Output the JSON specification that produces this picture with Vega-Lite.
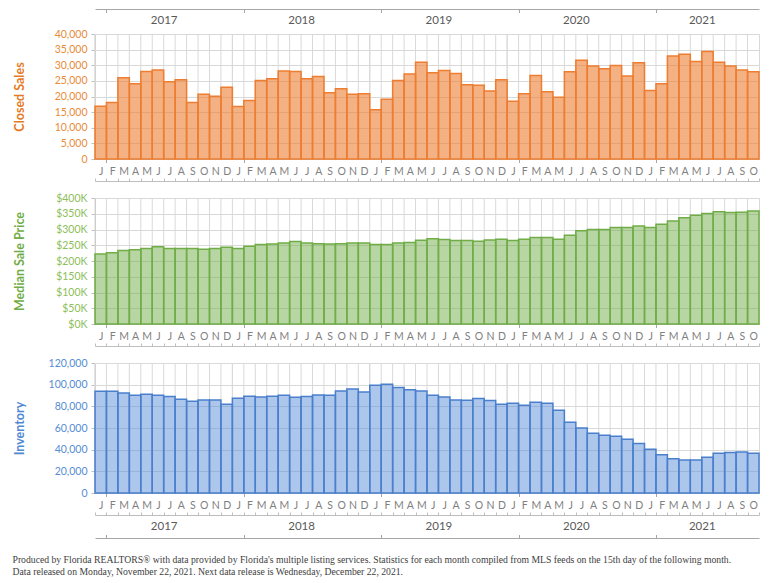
{
  "$schema": "https://vega.github.io/schema/vega-lite/v6.json",
  "padding": {"left": 12, "top": 8, "right": 10, "bottom": 5},
  "background": "white",
  "spacing": 39,
  "bounds": "flush",
  "title": {
    "text": ["Produced by Florida REALTORS® with data provided by Florida's multiple listing services. Statistics for each month compiled from MLS feeds on the 15th day of the following month.", "Data released on Monday, November 22, 2021. Next data release is Wednesday, December 22, 2021."],
    "orient": "bottom", "anchor": "start", "frame": "bounds",
    "font": "Liberation Serif", "fontSize": 9.7, "fontWeight": "normal", "color": "#404040",
    "lineHeight": 12, "offset": 16
  },
  "config": {
    "view": {"stroke": "#D9D9D9"},
    "font": "Lato",
    "axis": {"labelFont": "Lato", "titleFont": "Lato", "domainColor": "#BFBFBF", "tickColor": "#BFBFBF", "gridColor": "#D9D9D9", "labelOverlap": false}
  },
  "datasets": {
    "m": [
      {"d":"2017-01","sales":16900,"price":222000,"inv":93900},
      {"d":"2017-02","sales":18100,"price":226000,"inv":93900},
      {"d":"2017-03","sales":26000,"price":233000,"inv":92400},
      {"d":"2017-04","sales":24100,"price":236000,"inv":90200},
      {"d":"2017-05","sales":28000,"price":240000,"inv":91200},
      {"d":"2017-06","sales":28500,"price":245000,"inv":90200},
      {"d":"2017-07","sales":24700,"price":240000,"inv":89000},
      {"d":"2017-08","sales":25400,"price":240000,"inv":86600},
      {"d":"2017-09","sales":18100,"price":240000,"inv":84700},
      {"d":"2017-10","sales":20700,"price":237000,"inv":85900},
      {"d":"2017-11","sales":20100,"price":240000,"inv":85900},
      {"d":"2017-12","sales":23000,"price":244000,"inv":82000},
      {"d":"2018-01","sales":16800,"price":240000,"inv":87500},
      {"d":"2018-02","sales":18700,"price":247000,"inv":89300},
      {"d":"2018-03","sales":25100,"price":252000,"inv":88700},
      {"d":"2018-04","sales":25700,"price":254000,"inv":89300},
      {"d":"2018-05","sales":28200,"price":257000,"inv":90200},
      {"d":"2018-06","sales":28000,"price":262000,"inv":88400},
      {"d":"2018-07","sales":25700,"price":257000,"inv":89000},
      {"d":"2018-08","sales":26400,"price":255000,"inv":90500},
      {"d":"2018-09","sales":21200,"price":254000,"inv":90200},
      {"d":"2018-10","sales":22500,"price":255000,"inv":94200},
      {"d":"2018-11","sales":20700,"price":257000,"inv":96100},
      {"d":"2018-12","sales":20900,"price":257000,"inv":93300},
      {"d":"2019-01","sales":15800,"price":252000,"inv":99400},
      {"d":"2019-02","sales":19100,"price":252000,"inv":100400},
      {"d":"2019-03","sales":25100,"price":257000,"inv":97300},
      {"d":"2019-04","sales":27200,"price":259000,"inv":95200},
      {"d":"2019-05","sales":31000,"price":266000,"inv":94200},
      {"d":"2019-06","sales":27600,"price":271000,"inv":90200},
      {"d":"2019-07","sales":28300,"price":268000,"inv":88700},
      {"d":"2019-08","sales":27400,"price":265000,"inv":85900},
      {"d":"2019-09","sales":23800,"price":265000,"inv":85600},
      {"d":"2019-10","sales":23600,"price":263000,"inv":87200},
      {"d":"2019-11","sales":21800,"price":267000,"inv":85300},
      {"d":"2019-12","sales":25400,"price":269000,"inv":82000},
      {"d":"2020-01","sales":18500,"price":265000,"inv":82900},
      {"d":"2020-02","sales":20900,"price":269000,"inv":81000},
      {"d":"2020-03","sales":26700,"price":275000,"inv":83800},
      {"d":"2020-04","sales":21500,"price":275000,"inv":82900},
      {"d":"2020-05","sales":19800,"price":269000,"inv":76400},
      {"d":"2020-06","sales":27900,"price":282000,"inv":65400},
      {"d":"2020-07","sales":31600,"price":296000,"inv":59900},
      {"d":"2020-08","sales":29800,"price":300000,"inv":55200},
      {"d":"2020-09","sales":28900,"price":300000,"inv":53400},
      {"d":"2020-10","sales":29900,"price":306000,"inv":52500},
      {"d":"2020-11","sales":26600,"price":306000,"inv":49700},
      {"d":"2020-12","sales":30800,"price":311000,"inv":45700},
      {"d":"2021-01","sales":21900,"price":306000,"inv":40500},
      {"d":"2021-02","sales":24100,"price":317000,"inv":35300},
      {"d":"2021-03","sales":33000,"price":327000,"inv":31600},
      {"d":"2021-04","sales":33500,"price":337000,"inv":30400},
      {"d":"2021-05","sales":31200,"price":345000,"inv":30400},
      {"d":"2021-06","sales":34400,"price":351000,"inv":33100},
      {"d":"2021-07","sales":31000,"price":356000,"inv":36800},
      {"d":"2021-08","sales":29800,"price":354000,"inv":37400},
      {"d":"2021-09","sales":28500,"price":355000,"inv":37800},
      {"d":"2021-10","sales":27900,"price":359000,"inv":36800}
    ]
  },
  "vconcat": [
    {
      "width": 664, "height": 125,
      "data": {"name": "m"},
      "resolve": {"axis": {"x": "independent", "y": "independent"}},
      "layer": [
        {
          "mark": {"type": "rule", "color": "#D9D9D9", "strokeWidth": 1},
          "encoding": {
            "x": {"field": "d", "type": "ordinal", "bandPosition": 0,
              "scale": {"type": "band", "paddingInner": 0, "paddingOuter": 0},
              "axis": {"orient": "bottom", "offset": 22, "title": null, "tickBand": "extent", "domain": true, "domainColor": "#BFBFBF", "ticks": true, "tickColor": "#BFBFBF", "tickSize": -3, "labels": false, "grid": false}},
            "y": {"datum": 0, "type": "quantitative", "axis": null},
            "y2": {"datum": 40000}
          }
        },
        {
          "transform": [{"filter": "substring(datum.d,5,7)=='01'"}],
          "mark": {"type": "rule", "color": "#D9D9D9", "strokeWidth": 1},
          "encoding": {
            "x": {"field": "d", "type": "ordinal", "bandPosition": 0,
              "scale": {"type": "band", "paddingInner": 0, "paddingOuter": 0},
              "axis": {"orient": "top", "offset": 25, "title": null, "tickBand": "extent", "domain": true, "domainColor": "#A6A6A6", "ticks": true, "tickColor": "#A6A6A6", "tickSize": -3.5,
                "tickOpacity": {"condition": {"test": "substring(datum.value,5,7)=='01'", "value": 1}, "value": 0},
                "labelExpr": "((substring(datum.value,5,7)=='07' && datum.value!='2021-07') || datum.value=='2021-06') ? substring(datum.value,0,4) : ''",
                "labelOffset": -5.72, "labelPadding": -8, "labelBaseline": "middle", "labelAlign": "center", "labelAngle": 0, "labelColor": "#595959", "labelFontSize": 11.5, "grid": false}},
            "y": {"datum": 0, "type": "quantitative", "axis": null},
            "y2": {"datum": 40000}
          }
        },
        {
          "mark": {"type": "bar", "fill": "#ED7D31", "fillOpacity": 0.6, "stroke": "#ED7D31", "strokeWidth": 1.5},
          "encoding": {
            "x": {"field": "d", "type": "ordinal",
              "scale": {"type": "band", "paddingInner": 0, "paddingOuter": 0},
              "axis": {"orient": "bottom", "title": null, "tickBand": "extent", "grid": false, "domain": true, "domainColor": "#BFBFBF", "ticks": true, "tickSize": 3.5, "tickColor": "#A6A6A6",
                "tickOpacity": {"condition": {"test": "substring(datum.value,5,7)=='01'", "value": 1}, "value": 0},
                "labelExpr": "['J','F','M','A','M','J','J','A','S','O','N','D'][toNumber(substring(datum.value,5,7))-1]",
                "labelAngle": 0, "labelColor": "#7F7F7F", "labelFontSize": 10.5, "labelPadding": 9, "labelBaseline": "middle", "labelAlign": "center"}},
            "y": {"field": "sales", "type": "quantitative", "scale": {"domain": [0, 40000], "nice": false},
              "axis": {"title": "Closed Sales", "titleColor": "#E57B25", "titleFontWeight": "bold", "titleFontSize": 12.5, "titleX": -76, "titleY": 62.5, "titleAngle": -90, "titleAlign": "center", "titleBaseline": "middle",
                "values": [0,5000,10000,15000,20000,25000,30000,35000,40000], "format": ",d", "labelColor": "#E98B3A", "labelFontSize": 10.5, "tickSize": 4, "labelPadding": 4, "grid": true, "gridColor": "#D9D9D9"}}
          }
        }
      ]
    },
    {
      "width": 664, "height": 126,
      "data": {"name": "m"},
      "resolve": {"axis": {"x": "independent", "y": "independent"}},
      "layer": [
        {
          "mark": {"type": "rule", "color": "#D9D9D9", "strokeWidth": 1},
          "encoding": {
            "x": {"field": "d", "type": "ordinal", "bandPosition": 0,
              "scale": {"type": "band", "paddingInner": 0, "paddingOuter": 0},
              "axis": {"orient": "bottom", "offset": 22, "title": null, "tickBand": "extent", "domain": true, "domainColor": "#BFBFBF", "ticks": true, "tickColor": "#BFBFBF", "tickSize": -3, "labels": false, "grid": false}},
            "y": {"datum": 0, "type": "quantitative", "axis": null},
            "y2": {"datum": 400000}
          }
        },
        {
          "mark": {"type": "bar", "fill": "#70AD47", "fillOpacity": 0.5, "stroke": "#70AD47", "strokeWidth": 1.5},
          "encoding": {
            "x": {"field": "d", "type": "ordinal",
              "scale": {"type": "band", "paddingInner": 0, "paddingOuter": 0},
              "axis": {"orient": "bottom", "title": null, "tickBand": "extent", "grid": false, "domain": true, "domainColor": "#BFBFBF", "ticks": true, "tickSize": 3.5, "tickColor": "#A6A6A6",
                "tickOpacity": {"condition": {"test": "substring(datum.value,5,7)=='01'", "value": 1}, "value": 0},
                "labelExpr": "['J','F','M','A','M','J','J','A','S','O','N','D'][toNumber(substring(datum.value,5,7))-1]",
                "labelAngle": 0, "labelColor": "#7F7F7F", "labelFontSize": 10.5, "labelPadding": 9, "labelBaseline": "middle", "labelAlign": "center"}},
            "y": {"field": "price", "type": "quantitative", "scale": {"domain": [0, 400000], "nice": false},
              "axis": {"title": "Median Sale Price", "titleColor": "#70AD47", "titleFontWeight": "bold", "titleFontSize": 12.5, "titleX": -76, "titleY": 63, "titleAngle": -90, "titleAlign": "center", "titleBaseline": "middle",
                "values": [0,50000,100000,150000,200000,250000,300000,350000,400000], "labelExpr": "'$' + (datum.value/1000) + 'K'", "labelColor": "#8DBE5A", "labelFontSize": 10.5, "tickSize": 4, "labelPadding": 4, "grid": true, "gridColor": "#D9D9D9"}}
          }
        }
      ]
    },
    {
      "width": 664, "height": 130,
      "data": {"name": "m"},
      "resolve": {"axis": {"x": "independent", "y": "independent"}},
      "layer": [
        {
          "mark": {"type": "rule", "color": "#D9D9D9", "strokeWidth": 1},
          "encoding": {
            "x": {"field": "d", "type": "ordinal", "bandPosition": 0,
              "scale": {"type": "band", "paddingInner": 0, "paddingOuter": 0},
              "axis": {"orient": "bottom", "offset": 22, "title": null, "tickBand": "extent", "domain": true, "domainColor": "#BFBFBF", "ticks": true, "tickColor": "#BFBFBF", "tickSize": -3, "labels": false, "grid": false}},
            "y": {"datum": 0, "type": "quantitative", "axis": null},
            "y2": {"datum": 120000}
          }
        },
        {
          "transform": [{"filter": "substring(datum.d,5,7)=='01'"}],
          "mark": {"type": "rule", "color": "#D9D9D9", "strokeWidth": 1},
          "encoding": {
            "x": {"field": "d", "type": "ordinal", "bandPosition": 0,
              "scale": {"type": "band", "paddingInner": 0, "paddingOuter": 0},
              "axis": {"orient": "bottom", "offset": 45, "title": null, "tickBand": "extent", "domain": true, "domainColor": "#A6A6A6", "ticks": true, "tickColor": "#A6A6A6", "tickSize": -3.5,
                "tickOpacity": {"condition": {"test": "substring(datum.value,5,7)=='01'", "value": 1}, "value": 0},
                "labelExpr": "((substring(datum.value,5,7)=='07' && datum.value!='2021-07') || datum.value=='2021-06') ? substring(datum.value,0,4) : ''",
                "labelOffset": -5.72, "labelPadding": -8, "labelBaseline": "middle", "labelAlign": "center", "labelAngle": 0, "labelColor": "#595959", "labelFontSize": 11.5, "grid": false}},
            "y": {"datum": 0, "type": "quantitative", "axis": null},
            "y2": {"datum": 120000}
          }
        },
        {
          "mark": {"type": "bar", "fill": "#5B8FD9", "fillOpacity": 0.5, "stroke": "#4A7FCC", "strokeWidth": 1.5},
          "encoding": {
            "x": {"field": "d", "type": "ordinal",
              "scale": {"type": "band", "paddingInner": 0, "paddingOuter": 0},
              "axis": {"orient": "bottom", "title": null, "tickBand": "extent", "grid": false, "domain": true, "domainColor": "#BFBFBF", "ticks": true, "tickSize": 3.5, "tickColor": "#A6A6A6",
                "tickOpacity": {"condition": {"test": "substring(datum.value,5,7)=='01'", "value": 1}, "value": 0},
                "labelExpr": "['J','F','M','A','M','J','J','A','S','O','N','D'][toNumber(substring(datum.value,5,7))-1]",
                "labelAngle": 0, "labelColor": "#7F7F7F", "labelFontSize": 10.5, "labelPadding": 9, "labelBaseline": "middle", "labelAlign": "center"}},
            "y": {"field": "inv", "type": "quantitative", "scale": {"domain": [0, 120000], "nice": false},
              "axis": {"title": "Inventory", "titleColor": "#4F88D3", "titleFontWeight": "bold", "titleFontSize": 12.5, "titleX": -76, "titleY": 65, "titleAngle": -90, "titleAlign": "center", "titleBaseline": "middle",
                "values": [0,20000,40000,60000,80000,100000,120000], "format": ",d", "labelColor": "#558DD4", "labelFontSize": 10.5, "tickSize": 4, "labelPadding": 4, "grid": true, "gridColor": "#D9D9D9"}}
          }
        }
      ]
    }
  ]
}
